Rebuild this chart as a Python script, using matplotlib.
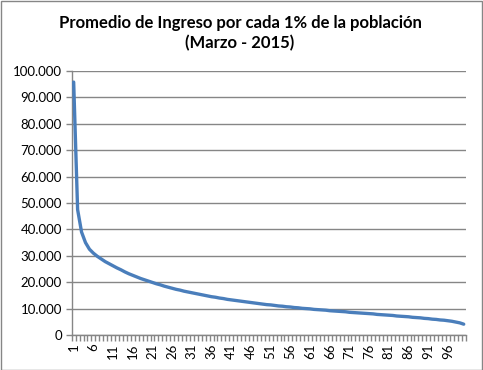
import numpy as np
import matplotlib
matplotlib.use("Agg")
import matplotlib.pyplot as plt
from matplotlib.patches import Rectangle

# Data (thousands of pesos per percentile)
percentiles = list(range(1, 101))
ingreso = [
    95.8, 47.5, 39.0, 35.0, 32.5, 31.0, 29.8, 28.8, 27.8, 27.0,
    26.2, 25.4, 24.7, 23.9, 23.2, 22.6, 22.0, 21.4, 20.9, 20.4,
    19.9, 19.4, 19.0, 18.5, 18.1, 17.7, 17.3, 17.0, 16.6, 16.3,
    16.0, 15.7, 15.4, 15.1, 14.8, 14.5, 14.3, 14.0, 13.8, 13.5,
    13.3, 13.1, 12.9, 12.7, 12.5, 12.3, 12.1, 11.9, 11.7, 11.5,
    11.4, 11.2, 11.0, 10.9, 10.7, 10.6, 10.4, 10.3, 10.1, 10.0,
    9.9, 9.7, 9.6, 9.5, 9.4, 9.2, 9.1, 9.0, 8.9, 8.8,
    8.6, 8.5, 8.4, 8.3, 8.2, 8.1, 8.0, 7.8, 7.7, 7.6,
    7.5, 7.4, 7.2, 7.1, 7.0, 6.9, 6.7, 6.6, 6.5, 6.3,
    6.2, 6.0, 5.9, 5.7, 5.6, 5.4, 5.2, 4.9, 4.6, 4.1,
]
ingreso = [v * 1000 for v in ingreso]
y_ticks = [0, 10000, 20000, 30000, 40000, 50000, 60000, 70000, 80000, 90000, 100000]
y_labels = ["0", "10.000", "20.000", "30.000", "40.000", "50.000",
            "60.000", "70.000", "80.000", "90.000", "100.000"]
x_label_values = list(range(1, 101, 5))

title = "Promedio de Ingreso por cada 1% de la población\n(Marzo - 2015)"

plt.rcParams['font.family'] = ['Lato', 'DejaVu Sans']

W, H = 483, 370
fig = plt.figure(figsize=(W / 100, H / 100), dpi=100)
ax = fig.add_axes([71.7 / W, 35 / H, (465.7 - 71.7) / W, (335 - 71) / H])

grey = "#868686"
x = np.arange(len(percentiles))
ax.plot(x, ingreso, color="#4A7EBB", lw=2.4, solid_joinstyle="round", solid_capstyle="round", zorder=3)

ax.set_xlim(-0.5, len(percentiles) - 0.5)
ax.set_ylim(0, 100000)
ax.set_yticks(y_ticks)
ax.set_yticklabels(y_labels, fontsize=9.5, color="black")
ax.yaxis.grid(True, color=grey, lw=1)
ax.set_axisbelow(True)

ax.set_xticks([percentiles.index(v) for v in x_label_values])
ax.set_xticklabels([str(v) for v in x_label_values], rotation=90, fontsize=9.5, color="black")
ax.set_xticks(np.arange(-0.5, len(percentiles), 1), minor=True)
ax.tick_params(axis="x", which="major", length=0, pad=6)
ax.tick_params(axis="x", which="minor", length=4, color=grey, width=1)
ax.tick_params(axis="y", which="major", length=4, color=grey, width=1, pad=3)

for s in ["top", "right"]:
    ax.spines[s].set_visible(False)
for s in ["left", "bottom"]:
    ax.spines[s].set_color(grey)
    ax.spines[s].set_linewidth(1)

fig.text(240 / W, 1 - 33 / H, title, ha="center", va="center", fontsize=12,
         fontweight="bold", linespacing=1.3)

fig.patches.append(Rectangle((0.5 / W, 0.5 / H), (W - 1.5) / W, (H - 1.5) / H,
                             transform=fig.transFigure, fill=False, edgecolor=grey, lw=1))

fig.savefig("out.png", dpi=100)
